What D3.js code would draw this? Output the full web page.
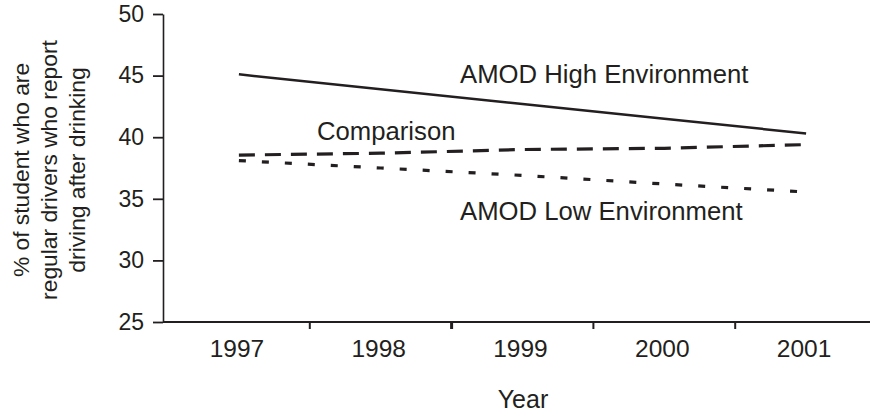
<!DOCTYPE html>
<html><head><meta charset="utf-8">
<script src="https://cdn.jsdelivr.net/npm/d3@7"></script>
<style>
html,body{margin:0;padding:0;background:#fff;}
text{font-family:"Liberation Sans",Arial,sans-serif;fill:#231f20;}
</style></head>
<body><svg id="c" width="870" height="413"></svg>
<script>
const years = ["1997","1998","1999","2000","2001"];
const highEnv = [45.1, 43.9, 42.7, 41.5, 40.3];
const comparison = [38.55, 38.7, 39.0, 39.1, 39.4];
const lowEnv = [38.1, 37.5, 36.9, 36.2, 35.55];
const yTicks = [25, 30, 35, 40, 45, 50];
const yTitleLines = ["% of student who are", "regular drivers who report", "driving after drinking"];
const seriesLabels = ["AMOD High Environment", "Comparison", "AMOD Low Environment"];

(function(){
const svg = d3.select("#c");
const ink = "#231f20";
const axL = 163, axB = 322, axT = 14;
const x = d3.scaleBand().domain(years).range([168, 877]).padding(0);
const y = d3.scaleLinear().domain([25, 50]).range([axB, axT]);
const cx = d => x(d) + x.bandwidth() / 2;

// y axis
const ya = svg.append("g").attr("transform", `translate(${axL},0)`)
  .call(d3.axisLeft(y).tickValues(yTicks).tickSize(10).tickPadding(9).tickSizeOuter(0));
ya.select(".domain").attr("stroke", ink).attr("stroke-width", 1.6);
ya.selectAll(".tick line").attr("stroke", ink).attr("stroke-width", 1.8);
ya.selectAll(".tick text").attr("font-size", 23).style("fill", ink)
  .attr("font-family", "Liberation Sans, Arial, sans-serif");

// x axis line
svg.append("line").attr("x1", axL).attr("x2", 870).attr("y1", axB).attr("y2", axB)
  .attr("stroke", ink).attr("stroke-width", 2);
// x ticks between categories
svg.selectAll(".xt").data(years.slice(1)).enter().append("line")
  .attr("x1", d => x(d)).attr("x2", d => x(d))
  .attr("y1", axB).attr("y2", axB + 7)
  .attr("stroke", ink).attr("stroke-width", (d, i) => i === 1 ? 3 : 2);
svg.selectAll(".xl").data(years).enter().append("text")
  .attr("x", d => cx(d) - 2).attr("y", 357).attr("text-anchor", "middle")
  .attr("font-size", 24.5).text(d => d);

// x title
svg.append("text").attr("x", 523).attr("y", 408).attr("text-anchor", "middle")
  .attr("font-size", 25).text("Year");

// y title
const yt = svg.append("text").attr("transform", "translate(0,170) rotate(-90)")
  .attr("text-anchor", "middle").attr("font-size", 22.8);
yTitleLines.forEach((t, i) => {
  yt.append("tspan").attr("x", 0).attr("y", 29 + i * 28).text(t);
});

// lines
const line = d3.line().x((d, i) => cx(years[i])).y(d => y(d));
svg.append("path").datum(highEnv).attr("d", line).attr("fill", "none")
  .attr("stroke", ink).attr("stroke-width", 2.5);
svg.append("path").datum(comparison).attr("d", line).attr("fill", "none")
  .attr("stroke", ink).attr("stroke-width", 3.2).attr("stroke-dasharray", "16,10");
svg.append("path").datum(lowEnv).attr("d", line).attr("fill", "none")
  .attr("stroke", ink).attr("stroke-width", 3.2).attr("stroke-dasharray", "7,16");

// series labels
svg.append("text").attr("x", 460).attr("y", 83).attr("font-size", 25.7).text(seriesLabels[0]);
svg.append("text").attr("x", 317).attr("y", 140).attr("font-size", 25.7).text(seriesLabels[1]);
svg.append("text").attr("x", 460).attr("y", 220).attr("font-size", 25.7).text(seriesLabels[2]);
})();
</script></body></html>
